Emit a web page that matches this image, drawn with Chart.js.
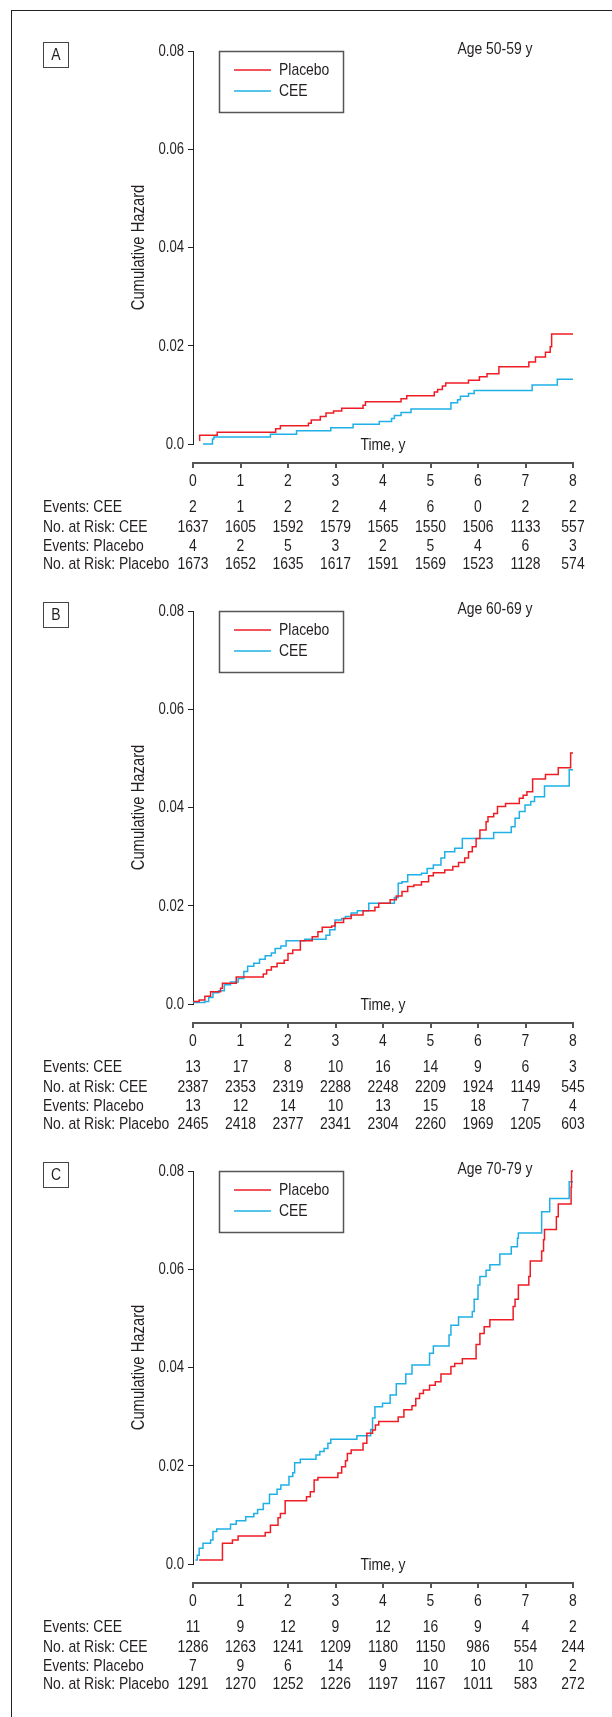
<!DOCTYPE html>
<html>
<head>
<meta charset="utf-8">
<script src="https://cdn.jsdelivr.net/npm/chart.js@4.4.0/dist/chart.umd.min.js"></script>
<style>
  html, body { margin: 0; padding: 0; background: #fff; }
  #page { position: relative; width: 612px; height: 1717px; overflow: hidden; }
  #frame { position: absolute; left: 11px; top: 10px; width: 700px; height: 1800px;
           border-left: 1px solid #222; border-top: 1px solid #222; }
  canvas { position: absolute; left: 0; }
</style>
</head>
<body>
<div id="page">
  <div id="frame"></div>
  <canvas id="chartA" width="612" height="580" style="top:0px"></canvas>
  <canvas id="chartB" width="612" height="580" style="top:560px"></canvas>
  <canvas id="chartC" width="612" height="580" style="top:1120px"></canvas>
</div>
<script>
// ---- datos ----
const years = [0, 1, 2, 3, 4, 5, 6, 7, 8];
const rowLabels = ['Events: CEE', 'No. at Risk: CEE', 'Events: Placebo', 'No. at Risk: Placebo'];

// Panel A, 50-59 y
const eventsCeeA = [2, 1, 2, 2, 4, 6, 0, 2, 2];
const riskCeeA = [1637, 1605, 1592, 1579, 1565, 1550, 1506, 1133, 557];
const eventsPlaA = [4, 2, 5, 3, 2, 5, 4, 6, 3];
const riskPlaA = [1673, 1652, 1635, 1617, 1591, 1569, 1523, 1128, 574];

const tPlaA = [0.13, 0.14, 0.51, 1.74, 1.84, 2.43, 2.49, 2.68, 2.80, 2.96, 3.13, 3.58, 3.63, 4.38, 4.50,
  5.08, 5.15, 5.25, 5.32, 5.80, 6.03, 6.19, 6.44, 7.07, 7.21, 7.42, 7.52, 7.55, 8.0];
const hPlaA = [0.0007, 0.0018, 0.0024, 0.0031, 0.0037, 0.0042, 0.0049, 0.0056, 0.0063, 0.0067, 0.0073, 0.0079, 0.0086, 0.0092, 0.0098,
  0.0106, 0.0111, 0.0118, 0.0124, 0.0130, 0.0137, 0.0143, 0.0157, 0.0167, 0.0177, 0.0187, 0.0198, 0.0224, 0.0224];
const tCeeA = [0.21, 0.41, 0.44, 1.63, 2.18, 2.90, 3.37, 3.92, 4.18, 4.24, 4.38, 4.59, 5.43, 5.57, 5.63, 5.80, 5.92, 7.14, 7.67, 8.0];
const hCeeA = [0.0, 0.0010, 0.0014, 0.0020, 0.0027, 0.0033, 0.0040, 0.0046, 0.0052, 0.0058, 0.0064, 0.0071, 0.0084, 0.0090, 0.0097,
  0.0103, 0.0109, 0.0120, 0.0132, 0.0132];

// Panel B, 60-69 y
const eventsCeeB = [13, 17, 8, 10, 16, 14, 9, 6, 3];
const riskCeeB = [2387, 2353, 2319, 2288, 2248, 2209, 1924, 1149, 545];
const eventsPlaB = [13, 12, 14, 10, 13, 15, 18, 7, 4];
const riskPlaB = [2465, 2418, 2377, 2341, 2304, 2260, 1969, 1205, 603];

const tPlaB = [0, 0.13, 0.25, 0.37, 0.58, 0.62, 0.91, 1.48, 1.55, 1.65, 1.77, 1.92, 2.00, 2.10, 2.26, 2.51, 2.63, 2.72, 2.92, 2.99,
  3.17, 3.33, 3.58, 3.83, 3.91, 4.15, 4.28, 4.40, 4.52, 4.65, 4.81, 4.96, 5.06, 5.30, 5.47, 5.59, 5.72, 5.80, 5.88, 5.96,
  6.04, 6.17, 6.21, 6.33, 6.41, 6.58, 6.87, 6.95, 7.03, 7.15, 7.42, 7.69, 7.95, 8.0];
const hPlaB = [0.0005, 0.0008, 0.0016, 0.0025, 0.0032, 0.0042, 0.0055, 0.0061, 0.0069, 0.0076, 0.0083, 0.0089, 0.0103, 0.0110, 0.0129,
  0.0137, 0.0147, 0.0156, 0.0159, 0.0166, 0.0174, 0.0181, 0.0190, 0.0197, 0.0205, 0.0212, 0.0220, 0.0229, 0.0239, 0.0242,
  0.0249, 0.0261, 0.0267, 0.0273, 0.0280, 0.0288, 0.0297, 0.0310, 0.0320, 0.0337, 0.0354, 0.0371, 0.0381, 0.0388, 0.0402,
  0.0408, 0.0419, 0.0425, 0.0432, 0.0458, 0.0467, 0.0481, 0.0511, 0.0511];
const tCeeB = [0, 0.25, 0.33, 0.42, 0.54, 0.66, 0.79, 0.95, 1.07, 1.15, 1.28, 1.40, 1.52, 1.65, 1.73, 1.85, 1.96, 2.35, 2.80, 2.88,
  2.99, 3.13, 3.21, 3.33, 3.46, 3.70, 4.24, 4.32, 4.40, 4.52, 4.81, 4.93, 5.06, 5.22, 5.30, 5.51, 5.67, 6.33, 6.70, 6.78,
  6.87, 6.99, 7.11, 7.19, 7.40, 7.92, 8.0];
const hCeeB = [0.0003, 0.0005, 0.0013, 0.0023, 0.0027, 0.0039, 0.0045, 0.0052, 0.0066, 0.0077, 0.0083, 0.0091, 0.0098, 0.0104, 0.0113,
  0.0118, 0.0129, 0.0132, 0.0140, 0.0151, 0.0171, 0.0174, 0.0178, 0.0185, 0.0190, 0.0205, 0.0217, 0.0246, 0.0249, 0.0263,
  0.0266, 0.0276, 0.0283, 0.0297, 0.0310, 0.0317, 0.0337, 0.0349, 0.0361, 0.0378, 0.0392, 0.0405, 0.0412, 0.0422, 0.0444,
  0.0477, 0.0477];

// Panel C, 70-79 y
const eventsCeeC = [11, 9, 12, 9, 12, 16, 9, 4, 2];
const riskCeeC = [1286, 1263, 1241, 1209, 1180, 1150, 986, 554, 244];
const eventsPlaC = [7, 9, 6, 14, 9, 10, 10, 10, 2];
const riskPlaC = [1291, 1270, 1252, 1226, 1197, 1167, 1011, 583, 272];

const tPlaC = [0.13, 0.62, 0.83, 0.95, 1.52, 1.63, 1.79, 1.84, 1.94, 2.39, 2.47, 2.55, 2.63, 3.05, 3.13, 3.21, 3.25, 3.33, 3.58, 3.66,
  3.78, 3.84, 3.91, 4.32, 4.44, 4.61, 4.69, 4.77, 4.85, 4.98, 5.10, 5.22, 5.43, 5.51, 5.67, 5.96, 6.04, 6.13, 6.25, 6.74,
  6.78, 6.85, 7.07, 7.10, 7.34, 7.38, 7.40, 7.65, 7.69, 7.96, 7.97, 8.0];
const hPlaC = [0.0008, 0.0042, 0.0049, 0.0057, 0.0064, 0.0079, 0.0094, 0.0103, 0.0129, 0.0137, 0.0147, 0.0171, 0.0176, 0.0185, 0.0198,
  0.0210, 0.0225, 0.0232, 0.0246, 0.0266, 0.0273, 0.0283, 0.0290, 0.0299, 0.0314, 0.0322, 0.0337, 0.0347, 0.0354, 0.0364,
  0.0371, 0.0387, 0.0402, 0.0408, 0.0418, 0.0447, 0.0469, 0.0483, 0.0497, 0.0524, 0.0539, 0.0568, 0.0585, 0.0617, 0.0637,
  0.0660, 0.0681, 0.0707, 0.0733, 0.0767, 0.0800, 0.0800];
const tCeeC = [0.05, 0.09, 0.13, 0.21, 0.37, 0.42, 0.50, 0.79, 0.91, 1.11, 1.28, 1.36, 1.48, 1.61, 1.77, 1.85, 2.02, 2.10, 2.14, 2.26,
  2.59, 2.67, 2.76, 2.84, 2.90, 3.45, 3.74, 3.78, 3.83, 3.99, 4.15, 4.28, 4.48, 4.61, 4.98, 5.06, 5.39, 5.43, 5.59, 5.88,
  5.92, 6.00, 6.04, 6.17, 6.25, 6.46, 6.70, 6.83, 6.85, 7.34, 7.51, 7.92, 8.0];
const hCeeC = [0.0008, 0.0018, 0.0032, 0.0042, 0.0049, 0.0066, 0.0071, 0.0081, 0.0088, 0.0096, 0.0103, 0.0111, 0.0123, 0.0142, 0.0152,
  0.0161, 0.0178, 0.0186, 0.0206, 0.0213, 0.0222, 0.0229, 0.0235, 0.0246, 0.0254, 0.0261, 0.0274, 0.0297, 0.0320, 0.0327,
  0.0344, 0.0367, 0.0387, 0.0405, 0.0429, 0.0444, 0.0466, 0.0486, 0.0503, 0.0514, 0.0539, 0.0568, 0.0585, 0.0598, 0.0609,
  0.0631, 0.0646, 0.0663, 0.0674, 0.0717, 0.0744, 0.0778, 0.0778];

// ---- estilo ----
const redColor = '#ee1c25';
const blueColor = '#1fb0e6';
const textColor = '#231f20';
const fontFamily = "'Liberation Sans', Arial, sans-serif";
const narrow = 0.82; // compresion horizontal, imita Helvetica condensada

Chart.defaults.font.family = fontFamily;
Chart.defaults.color = textColor;

function toPoints(ts, hs) {
  return ts.map((t, i) => ({ x: t, y: hs[i] }));
}

// texto estrecho
function narrowText(ctx, text, x, y, align, size, rotate) {
  ctx.save();
  ctx.font = size + 'px ' + fontFamily;
  ctx.fillStyle = textColor;
  ctx.translate(x, y);
  if (rotate) ctx.rotate(-Math.PI / 2);
  ctx.scale(narrow, 1);
  ctx.textAlign = align;
  ctx.textBaseline = 'middle';
  ctx.fillText(text, 0, 0);
  ctx.restore();
}

// etiquetas de ejes, eje de tiempo separado, leyenda, letra del panel y tabla de riesgo
const panelDecor = {
  id: 'panelDecor',
  afterDraw(chart, args, opts) {
    const ctx = chart.ctx;
    const xs = chart.scales.x;
    const ys = chart.scales.y;
    const area = chart.chartArea;
    ctx.save();

    // eje x separado
    const axisY = area.bottom + 19;
    ctx.strokeStyle = '#555';
    ctx.lineWidth = 2;
    ctx.beginPath();
    ctx.moveTo(xs.getPixelForValue(0) - 1, axisY);
    ctx.lineTo(xs.getPixelForValue(8) + 1, axisY);
    xs.ticks.forEach(tk => {
      const px = Math.round(xs.getPixelForValue(tk.value));
      ctx.moveTo(px, axisY);
      ctx.lineTo(px, axisY + 5);
    });
    ctx.stroke();

    // etiquetas de ticks
    xs.ticks.forEach(tk => {
      narrowText(ctx, String(tk.value), xs.getPixelForValue(tk.value), area.bottom + 37, 'center', 17);
    });
    ys.ticks.forEach(tk => {
      const lbl = tk.value === 0 ? '0.0' : tk.value.toFixed(2);
      narrowText(ctx, lbl, area.left - 9, ys.getPixelForValue(tk.value) + 0.5, 'right', 16);
    });
    narrowText(ctx, 'Cumulative Hazard', 139, (area.top + area.bottom) / 2, 'center', 18, true);
    narrowText(ctx, 'Time, y', (area.left + area.right) / 2, area.bottom + 1, 'center', 17);

    // grupo de edad
    narrowText(ctx, opts.age, 495, area.top - 2, 'center', 17);

    // letra del panel
    ctx.strokeStyle = '#444';
    ctx.lineWidth = 1;
    ctx.strokeRect(43.5, 42.5, 25, 25);
    narrowText(ctx, opts.letter, 56, 55.5, 'center', 17);

    // leyenda
    ctx.strokeStyle = '#555';
    ctx.lineWidth = 1.5;
    ctx.strokeRect(219.5, area.top + 0.5, 124, 61);
    chart.data.datasets.forEach((ds, i) => {
      const ly = area.top + 19 + i * 21;
      ctx.strokeStyle = ds.borderColor;
      ctx.lineWidth = 1.5;
      ctx.beginPath();
      ctx.moveTo(234, ly);
      ctx.lineTo(271, ly);
      ctx.stroke();
      narrowText(ctx, ds.label, 279, ly, 'left', 17);
    });

    // tabla de riesgo
    const rowOffsets = [63, 83, 102, 120];
    opts.table.forEach((row, r) => {
      const ry = area.bottom + rowOffsets[r];
      narrowText(ctx, rowLabels[r], 43, ry, 'left', 17);
      row.forEach((val, c) => {
        narrowText(ctx, String(val), xs.getPixelForValue(years[c]), ry, 'center', 17);
      });
    });
    ctx.restore();
  }
};

function makePanel(id, letter, age, plaT, plaH, ceeT, ceeH, table) {
  const ctx = document.getElementById(id).getContext('2d');
  return new Chart(ctx, {
    type: 'line',
    data: {
      datasets: [
        {
          label: 'Placebo',
          data: toPoints(plaT, plaH),
          borderColor: redColor,
          borderWidth: 1.5,
          stepped: true,
          pointRadius: 0,
          fill: false,
          clip: false
        },
        {
          label: 'CEE',
          data: toPoints(ceeT, ceeH),
          borderColor: blueColor,
          borderWidth: 1.5,
          stepped: true,
          pointRadius: 0,
          fill: false,
          clip: false
        }
      ]
    },
    options: {
      responsive: false,
      animation: false,
      devicePixelRatio: 1,
      layout: { padding: { left: 0, top: 51, right: 39, bottom: 0 } },
      plugins: {
        legend: { display: false },
        tooltip: { enabled: false },
        panelDecor: { letter: letter, age: age, table: table }
      },
      scales: {
        x: {
          type: 'linear',
          min: 0,
          max: 8,
          ticks: { stepSize: 1, display: false },
          grid: { display: false, drawTicks: false },
          border: { display: false },
          afterFit: s => { s.height = 136; }
        },
        y: {
          min: 0,
          max: 0.08,
          ticks: { stepSize: 0.02, display: false },
          grid: { drawOnChartArea: false, tickLength: 5, color: '#222' },
          border: { color: '#222', width: 1 },
          afterFit: s => { s.width = 193; }
        }
      }
    },
    plugins: [panelDecor]
  });
}

makePanel('chartA', 'A', 'Age 50-59 y', tPlaA, hPlaA, tCeeA, hCeeA,
  [eventsCeeA, riskCeeA, eventsPlaA, riskPlaA]);
makePanel('chartB', 'B', 'Age 60-69 y', tPlaB, hPlaB, tCeeB, hCeeB,
  [eventsCeeB, riskCeeB, eventsPlaB, riskPlaB]);
makePanel('chartC', 'C', 'Age 70-79 y', tPlaC, hPlaC, tCeeC, hCeeC,
  [eventsCeeC, riskCeeC, eventsPlaC, riskPlaC]);
</script>
</body>
</html>
